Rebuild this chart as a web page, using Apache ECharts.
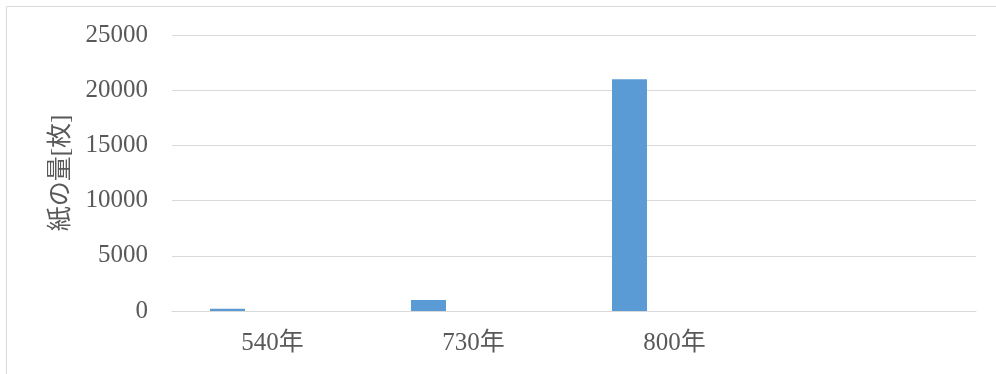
<!DOCTYPE html>
<html>
<head>
<meta charset="utf-8">
<script src="https://cdn.jsdelivr.net/npm/echarts@6/dist/echarts.min.js"></script>
<style>
html,body{margin:0;padding:0;background:#fff;}
#c{width:996px;height:374px;}
</style>
</head>
<body>
<div id="c"></div>
<script>
const categories = ['540年', '730年', '800年', ''];
const paperAmount = [200, 1000, 21000, null];
const emptySeriesB = [null, null, null, null];
const emptySeriesC = [null, null, null, null];
const yTicks = [0, 5000, 10000, 15000, 20000, 25000];
const yAxisTitle = '紙の量[枚]';

const textColor = '#595959';
const fontFam = '"Liberation Serif", "Noto Sans CJK JP", serif';

const chart = echarts.init(document.getElementById('c'), null, {renderer: 'canvas'});
chart.setOption({
  animation: false,
  backgroundColor: '#fff',
  graphic: [
    {type: 'line', shape: {x1: 6.5, y1: 6.5, x2: 996, y2: 6.5}, style: {stroke: '#d9d9d9', lineWidth: 1}},
    {type: 'line', shape: {x1: 6.5, y1: 6.5, x2: 6.5, y2: 374}, style: {stroke: '#d9d9d9', lineWidth: 1}}
  ],
  grid: {left: 172, right: 20, top: 35, bottom: 63, containLabel: false},
  xAxis: {
    type: 'category',
    data: categories,
    axisLine: {show: true, lineStyle: {color: '#d9d9d9', width: 1}},
    axisTick: {show: false},
    axisLabel: {color: textColor, fontFamily: fontFam, fontSize: 25, margin: 20},
    splitLine: {show: false}
  },
  yAxis: {
    type: 'value',
    min: yTicks[0],
    max: yTicks[yTicks.length - 1],
    interval: yTicks[1] - yTicks[0],
    name: yAxisTitle,
    nameLocation: 'middle',
    nameGap: 98,
    nameRotate: 90,
    nameTextStyle: {color: textColor, fontFamily: fontFam, fontSize: 25},
    axisLine: {show: false},
    axisTick: {show: false},
    axisLabel: {color: textColor, fontFamily: fontFam, fontSize: 25, margin: 24, formatter: function (v) { return String(v); }},
    splitLine: {lineStyle: {color: '#d9d9d9', width: 1}}
  },
  series: [
    {type: 'bar', data: paperAmount, barWidth: 35, barGap: '28.6%', itemStyle: {color: '#5b9bd5'}},
    {type: 'bar', data: emptySeriesB, barWidth: 35, barGap: '28.6%', itemStyle: {color: '#ed7d31'}},
    {type: 'bar', data: emptySeriesC, barWidth: 35, barGap: '28.6%', itemStyle: {color: '#a5a5a5'}}
  ]
});
</script>
</body>
</html>
